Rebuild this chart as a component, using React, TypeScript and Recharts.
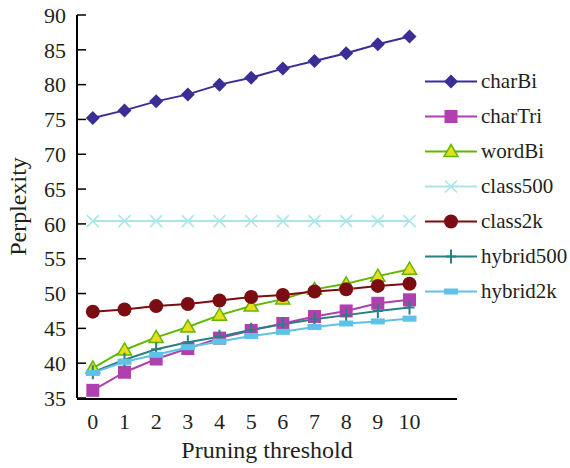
import { LineChart, Line, XAxis, YAxis } from "recharts"

// pruning thresholds on the x axis
const thresholds = [0, 1, 2, 3, 4, 5, 6, 7, 8, 9, 10]

// perplexity per model
const charBi = [75.2, 76.3, 77.6, 78.6, 80.0, 81.0, 82.3, 83.4, 84.5, 85.8, 86.9]
const charTri = [36.1, 38.7, 40.6, 42.1, 43.6, 44.7, 45.7, 46.7, 47.5, 48.6, 49.1]
const wordBi = [39.3, 41.9, 43.7, 45.2, 46.9, 48.2, 49.2, 50.6, 51.4, 52.5, 53.5]
const class500 = [60.4, 60.4, 60.4, 60.4, 60.4, 60.4, 60.4, 60.4, 60.4, 60.4, 60.4]
const class2k = [47.4, 47.7, 48.2, 48.5, 49.0, 49.5, 49.8, 50.3, 50.6, 51.1, 51.4]
const hybrid500 = [38.7, 40.5, 42.0, 43.0, 43.8, 44.8, 45.6, 46.3, 46.9, 47.5, 48.0]
const hybrid2k = [38.6, 40.2, 41.2, 42.3, 43.1, 43.9, 44.5, 45.2, 45.7, 46.0, 46.4]

const yTicks = [35, 40, 45, 50, 55, 60, 65, 70, 75, 80, 85, 90]
// tick marks sit on the boundaries between categories
const slotTicks = [-0.5, 0.5, 1.5, 2.5, 3.5, 4.5, 5.5, 6.5, 7.5, 8.5, 9.5, 10.5, 11.5]

const data = thresholds.map((t, i) => ({
  t,
  charBi: charBi[i],
  charTri: charTri[i],
  wordBi: wordBi[i],
  class500: class500[i],
  class2k: class2k[i],
  hybrid500: hybrid500[i],
  hybrid2k: hybrid2k[i],
}))

type Shape = "diamond" | "square" | "triangle" | "cross" | "circle" | "plus" | "bar"

const series: { key: string; color: string; shape: Shape }[] = [
  { key: "charBi", color: "#3a2e96", shape: "diamond" },
  { key: "charTri", color: "#b040b0", shape: "square" },
  { key: "wordBi", color: "#62b800", shape: "triangle" },
  { key: "class500", color: "#a8e6ea", shape: "cross" },
  { key: "class2k", color: "#7a0c12", shape: "circle" },
  { key: "hybrid500", color: "#2a7f80", shape: "plus" },
  { key: "hybrid2k", color: "#5ec2e6", shape: "bar" },
]

const FONT = "'Liberation Serif', serif"
const TEXT = "#231f20"

function marker(shape: Shape, cx: number, cy: number, color: string, key?: any) {
  switch (shape) {
    case "diamond":
      return <polygon key={key} points={`${cx},${cy - 7} ${cx + 7},${cy} ${cx},${cy + 7} ${cx - 7},${cy}`} fill={color} />
    case "square":
      return <rect key={key} x={cx - 6.5} y={cy - 6.5} width={13} height={13} fill={color} />
    case "triangle":
      return (
        <polygon
          key={key}
          points={`${cx},${cy - 7} ${cx + 7},${cy + 5} ${cx - 7},${cy + 5}`}
          fill="#e6de1e"
          stroke={color}
          strokeWidth={1.5}
        />
      )
    case "cross":
      return (
        <path
          key={key}
          d={`M${cx - 6},${cy - 6}L${cx + 6},${cy + 6}M${cx - 6},${cy + 6}L${cx + 6},${cy - 6}`}
          stroke={color}
          strokeWidth={1.5}
        />
      )
    case "circle":
      return <circle key={key} cx={cx} cy={cy} r={7} fill={color} />
    case "plus":
      return <path key={key} d={`M${cx},${cy - 7}V${cy + 7}M${cx - 5},${cy}H${cx + 5}`} stroke={color} strokeWidth={2} />
    case "bar":
      return <rect key={key} x={cx - 7} y={cy - 3} width={14} height={6} fill={color} />
  }
}

const xTick = (p: any) => (
  <text x={p.x} y={p.y} dy="0.71em" textAnchor="middle" fontSize={22} fill={TEXT} fontFamily={FONT}>
    {p.payload.value}
  </text>
)

const yTick = (p: any) => (
  <text x={p.x} y={p.y} dy="0.35em" textAnchor="end" fontSize={22} fill={TEXT} fontFamily={FONT}>
    {p.payload.value}
  </text>
)

const xTitle = (props: any) => {
  const vb = props.viewBox
  return (
    <text x={vb.x + vb.width / 2} y={vb.y + 60} textAnchor="middle" fontSize={24} fill={TEXT} fontFamily={FONT}>
      Pruning threshold
    </text>
  )
}

const yTitle = (props: any) => {
  const vb = props.viewBox
  const x = vb.x + 26
  const y = vb.y + vb.height / 2
  return (
    <text x={x} y={y} transform={`rotate(-90 ${x} ${y})`} textAnchor="middle" fontSize={24} fill={TEXT} fontFamily={FONT}>
      Perplexity
    </text>
  )
}

export default function App() {
  return (
    <div style={{ position: "absolute", left: 0, top: 0, width: 570, height: 468, background: "#fff", fontFamily: FONT }}>
      <LineChart width={570} height={468} data={data} margin={{ top: 15, right: 113, bottom: 68, left: 0 }}>
        <XAxis
          xAxisId="slots"
          dataKey="t"
          type="number"
          domain={[-0.5, 11.5]}
          ticks={slotTicks}
          interval={0}
          height={1}
          tick={false}
          tickSize={-7}
          axisLine={{ stroke: "#000", strokeWidth: 2 }}
          tickLine={{ stroke: "#000", strokeWidth: 1.5 }}
        />
        <XAxis
          dataKey="t"
          type="number"
          domain={[-0.5, 11.5]}
          ticks={thresholds}
          interval={0}
          height={1}
          axisLine={false}
          tickLine={false}
          tickSize={0}
          tickMargin={15}
          tick={xTick}
          label={xTitle}
        />
        <YAxis
          type="number"
          domain={[35, 90]}
          ticks={yTicks}
          interval={0}
          width={77}
          tickSize={-9}
          tickMargin={20}
          axisLine={{ stroke: "#000", strokeWidth: 2 }}
          tickLine={{ stroke: "#000", strokeWidth: 1.5 }}
          tick={yTick}
          label={yTitle}
        />
        {series.map((s) => (
          <Line
            key={s.key}
            dataKey={s.key}
            stroke={s.color}
            strokeWidth={2}
            isAnimationActive={false}
            dot={(p: any) => marker(s.shape, p.cx, p.cy, s.color, `${s.key}-${p.index}`)}
            activeDot={false}
          />
        ))}
      </LineChart>
      <div style={{ position: "absolute", left: 425, top: 63.5, fontSize: 21, color: TEXT }}>
        {series.map((s) => (
          <div key={s.key} style={{ display: "flex", alignItems: "center", height: 35 }}>
            <svg width={52} height={35}>
              <line x1={0} x2={52} y1={17.5} y2={17.5} stroke={s.color} strokeWidth={2} />
              {marker(s.shape, 26, 17.5, s.color)}
            </svg>
            <span style={{ marginLeft: 4, whiteSpace: "nowrap" }}>{s.key}</span>
          </div>
        ))}
      </div>
    </div>
  )
}
